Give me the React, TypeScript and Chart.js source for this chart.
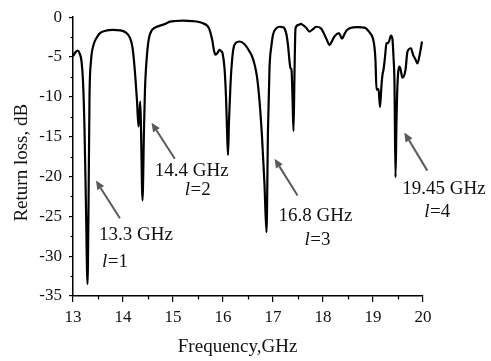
import React, { useEffect, useRef } from "react";
import { Chart, registerables } from "chart.js";

Chart.register(...registerables);

const freqGHz: number[] = [
  13.0, 13.05, 13.09, 13.13, 13.17, 13.2, 13.23, 13.26, 13.29, 13.31, 13.33, 13.36, 13.41, 13.47, 13.54,
  13.65, 13.8, 13.95, 14.05, 14.14, 14.19, 14.22, 14.25, 14.28, 14.31, 14.33, 14.345, 14.36, 14.39, 14.42,
  14.44, 14.46, 14.49, 14.52, 14.57, 14.64, 14.74, 14.82, 14.94, 15.05, 15.2, 15.4, 15.52, 15.6, 15.67,
  15.72, 15.76, 15.79, 15.82, 15.85, 15.89, 15.93, 15.97, 15.99, 16.03, 16.06, 16.08, 16.1, 16.12, 16.15,
  16.18, 16.21, 16.26, 16.33, 16.43, 16.53, 16.58, 16.63, 16.68, 16.73, 16.78, 16.83, 16.87, 16.9, 16.93,
  16.97, 17.0, 17.05, 17.13, 17.19, 17.23, 17.27, 17.3, 17.33, 17.35, 17.37, 17.39, 17.41, 17.43, 17.45,
  17.5, 17.56, 17.6, 17.66, 17.73, 17.8, 17.86, 17.96, 18.03, 18.08, 18.13, 18.18, 18.23, 18.32, 18.38,
  18.43, 18.48, 18.6, 18.7, 18.83, 18.92, 19.0, 19.03, 19.05, 19.07, 19.11, 19.14, 19.17, 19.19, 19.21,
  19.24, 19.27, 19.31, 19.36, 19.39, 19.41, 19.43, 19.45, 19.47, 19.49, 19.53, 19.55, 19.59, 19.65, 19.69,
  19.76, 19.8, 19.85, 19.89, 19.94, 19.98,
];

const returnLossDb: number[] = [
  -4.9, -4.4, -4.2, -4.5, -5.5, -8, -14, -24, -33.5, -24, -10, -5.5, -3.5, -2.6, -2.0,
  -1.7, -1.6, -1.65, -1.9, -2.6, -3.8, -5.5, -7.8, -10.5, -13.7, -12, -10.6, -14, -23, -14,
  -9, -6.4, -4, -2.6, -1.7, -1.3, -1.06, -0.9, -0.56, -0.48, -0.44, -0.5, -0.6, -0.77, -1.0,
  -1.4, -2.2, -3.05, -4.2, -4.7, -4.5, -4.1, -4.3, -4.5, -6.4, -10, -14, -17.3, -13, -8.4,
  -5.5, -3.9, -3.2, -3.05, -3.4, -4.3, -4.9, -5.9, -7.5, -10.5, -15, -21, -27, -14, -6.4,
  -3.5, -2.2, -1.5, -1.2, -1.25, -1.4, -2.2, -3.5, -5.5, -6.4, -6.6, -10, -14.3, -7, -1.4,
  -1.0, -0.85, -1.0, -1.3, -1.8, -1.5, -1.2, -1.4, -2.2, -2.9, -3.5, -3.0, -2.4, -2.0, -2.7,
  -2.1, -1.6, -1.27, -1.25, -1.3, -1.8, -2.7, -3.8, -5.5, -9.1, -9, -11.3, -8.5, -7.2, -6.6,
  -5, -3.3, -3.2, -2.3, -2.8, -5, -8.4, -20.1, -13, -8.4, -6.2, -6.5, -7.6, -6.6, -4.3,
  -3.9, -4.7, -5.3, -5.8, -4.5, -3.05,
];

// Annotations (data coordinates)
const annFreqLabels: string[] = ["13.3 GHz", "14.4 GHz", "16.8 GHz", "19.45 GHz"];
const annModeLabels: string[] = ["1", "2", "3", "4"];
const arrowHeadX: number[] = [13.459, 14.571, 17.032, 19.627];
const arrowHeadY: number[] = [-20.51, -13.24, -17.77, -14.49];
const arrowTailX: number[] = [13.938, 15.036, 17.491, 20.086];
const arrowTailY: number[] = [-25.25, -17.77, -22.38, -19.26];
const labelX: number[] = [13.519, 14.637, 17.112, 19.587];
const labelY: number[] = [-27.37, -19.33, -24.94, -21.57];
const modeX: number[] = [13.579, 15.236, 17.631, 20.026];
const modeY: number[] = [-30.74, -21.7, -27.99, -24.44];

const xMinorTicks: number[] = [13.5, 14.5, 15.5, 16.5, 17.5, 18.5, 19.5];
const yMinorTicks: number[] = [-2.5, -7.5, -12.5, -17.5, -22.5, -27.5, -32.5];

const xTitle = "Frequency,GHz";
const yTitle = "Return loss, dB";

const FONT = "'Liberation Serif', 'Times New Roman', serif";

const annotationPlugin = {
  id: "annotations",
  afterDraw(chart: any) {
    const { ctx, scales, chartArea } = chart;
    const xs = scales.x;
    const ys = scales.y;
    ctx.save();
    // minor ticks
    ctx.strokeStyle = "#000";
    ctx.lineWidth = 1.2;
    const axisY = ys.getPixelForValue(-35);
    const axisX = xs.getPixelForValue(13);
    xMinorTicks.forEach((v) => {
      const px = Math.round(xs.getPixelForValue(v)) + 0.5;
      ctx.beginPath();
      ctx.moveTo(px, axisY);
      ctx.lineTo(px, axisY + 3.5);
      ctx.stroke();
    });
    yMinorTicks.forEach((v) => {
      const py = Math.round(ys.getPixelForValue(v)) + 0.5;
      ctx.beginPath();
      ctx.moveTo(axisX, py);
      ctx.lineTo(axisX - 2.5, py);
      ctx.stroke();
    });

    // axis titles
    ctx.fillStyle = "#111";
    ctx.font = `19px ${FONT}`;
    ctx.textAlign = "center";
    ctx.textBaseline = "alphabetic";
    ctx.fillText(xTitle, chartArea.left + 164.6, chartArea.bottom + 56);
    ctx.save();
    ctx.translate(27, chartArea.top + 145.5);
    ctx.rotate(-Math.PI / 2);
    ctx.fillText(yTitle, 0, 0);
    ctx.restore();

    // arrows and labels
    for (let i = 0; i < annFreqLabels.length; i++) {
      const hx = xs.getPixelForValue(arrowHeadX[i]);
      const hy = ys.getPixelForValue(arrowHeadY[i]);
      const tx = xs.getPixelForValue(arrowTailX[i]);
      const ty = ys.getPixelForValue(arrowTailY[i]);
      const ang = Math.atan2(hy - ty, hx - tx);
      const headLen = 9;
      const headW = 4;
      const bx = hx - headLen * Math.cos(ang);
      const by = hy - headLen * Math.sin(ang);
      ctx.strokeStyle = "#5a5a5a";
      ctx.fillStyle = "#5a5a5a";
      ctx.lineWidth = 2;
      ctx.beginPath();
      ctx.moveTo(tx, ty);
      ctx.lineTo(bx, by);
      ctx.stroke();
      ctx.beginPath();
      ctx.moveTo(hx, hy);
      ctx.lineTo(bx + headW * Math.sin(ang), by - headW * Math.cos(ang));
      ctx.lineTo(bx - headW * Math.sin(ang), by + headW * Math.cos(ang));
      ctx.closePath();
      ctx.fill();

      ctx.fillStyle = "#111";
      ctx.textBaseline = "middle";
      ctx.textAlign = "left";
      ctx.font = `19px ${FONT}`;
      ctx.fillText(annFreqLabels[i], xs.getPixelForValue(labelX[i]), ys.getPixelForValue(labelY[i]));
      const mx = xs.getPixelForValue(modeX[i]);
      const my = ys.getPixelForValue(modeY[i]);
      ctx.font = `italic 19px ${FONT}`;
      ctx.fillText("l", mx, my);
      const lw = ctx.measureText("l").width;
      ctx.font = `19px ${FONT}`;
      ctx.fillText("=" + annModeLabels[i], mx + lw + 0.5, my);
    }
    ctx.restore();
  },
};

export default function App() {
  const canvasRef = useRef<HTMLCanvasElement | null>(null);

  useEffect(() => {
    const canvas = canvasRef.current;
    if (!canvas) return;
    const points = freqGHz.map((f, i) => ({ x: f, y: returnLossDb[i] }));
    const chart = new Chart(canvas, {
      type: "line",
      data: {
        datasets: [
          {
            data: points,
            borderColor: "#000",
            borderWidth: 2.2,
            pointRadius: 0,
            fill: false,
            cubicInterpolationMode: "monotone",
          },
        ],
      },
      options: {
        animation: false,
        responsive: false,
        devicePixelRatio: 1,
        parsing: false as any,
        layout: { padding: { left: 0, top: 15, right: 68, bottom: 0 } },
        plugins: { legend: { display: false }, tooltip: { enabled: false } },
        scales: {
          x: {
            type: "linear",
            min: 13,
            max: 20,
            afterFit: (s: any) => {
              s.height = 65;
            },
            border: { display: true, color: "#000", width: 1.5 },
            grid: { drawOnChartArea: false, drawTicks: true, tickLength: 6, color: "#000", lineWidth: 1.2 },
            ticks: {
              stepSize: 1,
              padding: 5,
              color: "#111",
              font: { family: FONT, size: 17 },
              maxRotation: 0,
              callback: (v: any) => String(v),
            },
            title: { display: false },
          },
          y: {
            type: "linear",
            min: -35,
            max: 0,
            afterFit: (s: any) => {
              s.width = 73;
            },
            border: { display: true, color: "#000", width: 1.5 },
            grid: { drawOnChartArea: false, drawTicks: true, tickLength: 4, color: "#000", lineWidth: 1.2 },
            ticks: {
              stepSize: 5,
              padding: 7,
              color: "#111",
              font: { family: FONT, size: 17 },
              callback: (v: any) => String(v),
            },
            title: { display: false },
          },
        },
      },
      plugins: [annotationPlugin],
    });
    return () => chart.destroy();
  }, []);

  return (
    <div style={{ position: "absolute", left: 0, top: 0, width: 491, height: 361, background: "#fff" }}>
      <canvas ref={canvasRef} width={491} height={361} style={{ display: "block" }} />
    </div>
  );
}
